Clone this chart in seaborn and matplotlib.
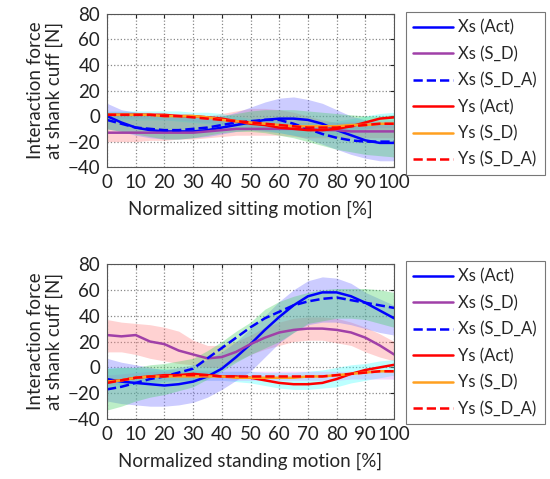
import matplotlib
matplotlib.use("Agg")
import matplotlib.pyplot as plt
import pandas as pd
import seaborn as sns

# normalized motion [%], sampled every 5 %
motion = list(range(0, 101, 5))

# ---- sitting motion (top panel) ----
sit_xs_act = [0, -5, -9, -11, -12, -12, -12, -11, -9, -7, -5, -3, -2, -2, -3, -6, -11, -15, -19, -21, -21]
sit_xs_sd = [-13, -13, -13, -13, -13, -13, -13, -12, -11, -10, -10, -10, -10, -10, -10, -11, -11, -12, -12, -12, -12]
sit_xs_sda = [-3, -6, -9, -10, -11, -11, -10, -9, -7, -5, -4, -3, -3, -6, -10, -14, -17, -19, -20, -20, -20]
sit_ys_act = [1, 1, 1, 1, 1, 0, 0, -1, -2, -4, -6, -7, -9, -10, -11, -11, -10, -8, -5, -2, -1]
sit_ys_sd = [1, 1, 1, 1, 0, 0, 0, -1, -3, -4, -5, -6, -7, -8, -8, -8, -8, -7, -7, -6, -6]
sit_ys_sda = [1, 1, 1, 1, 0, 0, -1, -2, -3, -4, -5, -6, -7, -8, -9, -9, -9, -8, -7, -6, -6]

# standard-deviation bands (upper / lower edge)
sit_xs_act_hi = [10, 5, 3, 2, 1, 0, 0, 0, 0, 3, 7, 11, 14, 15, 13, 10, 5, 0, -3, -5, -5]
sit_xs_act_lo = [-10, -12, -15, -17, -18, -18, -17, -16, -14, -12, -11, -12, -13, -15, -18, -22, -26, -30, -33, -35, -35]
sit_xs_sda_hi = [3, 3, 3, 2, 1, 0, 0, 0, 0, 2, 4, 5, 5, 5, 4, 3, 2, 1, 0, 0, 1]
sit_xs_sda_lo = [-10, -12, -14, -16, -18, -18, -17, -15, -13, -12, -12, -13, -15, -17, -20, -23, -26, -28, -30, -31, -32]
sit_xs_sd_hi = [0, 0, 0, 0, 0, 0, 0, 0, 2, 4, 6, 6, 5, 3, 0, -3, -5, -5, -5, -5, -5]
sit_xs_sd_lo = [-20, -20, -20, -19, -19, -18, -18, -17, -16, -15, -15, -15, -15, -16, -17, -17, -17, -17, -17, -17, -17]
sit_ys_act_hi = [4, 4, 4, 4, 4, 4, 3, 3, 2, 0, -2, -3, -4, -5, -5, -5, -4, -2, 0, 2, 3]
sit_ys_act_lo = [-3, -3, -3, -3, -3, -4, -5, -6, -7, -8, -10, -11, -13, -15, -16, -16, -15, -13, -10, -7, -5]
sit_ys_sd_hi = [3, 3, 3, 3, 2, 2, 1, 0, -1, -2, -3, -4, -4, -5, -5, -5, -5, -4, -4, -3, -3]
sit_ys_sd_lo = [-2, -2, -2, -2, -3, -3, -4, -5, -6, -7, -8, -9, -10, -11, -11, -11, -11, -10, -10, -9, -9]

# ---- standing motion (bottom panel) ----
std_xs_act = [-9, -11, -12, -13, -14, -13, -11, -7, -1, 8, 18, 29, 39, 48, 55, 58, 58, 55, 50, 44, 38]
std_xs_sd = [25, 24, 25, 20, 18, 13, 10, 7, 8, 12, 18, 23, 27, 29, 30, 30, 29, 27, 23, 17, 10]
std_xs_sda = [-17, -15, -12, -9, -7, -4, -1, 7, 15, 23, 31, 38, 43, 48, 51, 53, 54, 52, 50, 48, 46]
std_ys_act = [-11, -10, -8, -7, -6, -6, -5, -6, -7, -7, -8, -10, -12, -13, -13, -12, -9, -5, -2, 0, 2]
std_ys_sd = [-11, -10, -8, -7, -7, -7, -7, -7, -7, -8, -8, -8, -8, -8, -7, -7, -6, -5, -4, -3, -3]
std_ys_sda = [-12, -10, -8, -7, -7, -6, -6, -6, -7, -7, -7, -7, -7, -7, -7, -7, -6, -5, -4, -3, -3]

std_xs_act_hi = [7, 4, 2, 0, -2, 0, 2, 6, 12, 20, 30, 40, 51, 60, 67, 70, 69, 65, 58, 53, 48]
std_xs_act_lo = [-26, -28, -29, -30, -30, -29, -27, -23, -17, -10, -3, 8, 19, 27, 33, 35, 35, 33, 30, 27, 25]
std_xs_sda_hi = [-1, 0, 0, 2, 3, 5, 7, 13, 20, 28, 35, 45, 51, 55, 58, 60, 61, 61, 61, 60, 58]
std_xs_sda_lo = [-33, -30, -26, -23, -21, -18, -15, -9, -3, 4, 10, 15, 20, 27, 34, 36, 38, 38, 37, 34, 31]
std_xs_sd_hi = [37, 35, 34, 33, 31, 28, 21, 17, 17, 20, 25, 31, 35, 38, 39, 39, 38, 35, 31, 26, 20]
std_xs_sd_lo = [12, 12, 10, 7, 5, 3, 2, 0, 0, 5, 10, 14, 17, 20, 21, 21, 19, 17, 12, 8, 5]
std_ys_act_hi = [0, 0, 0, -1, -1, -2, -2, -2, -3, -3, -3, -4, -4, -4, -3, -2, 0, 2, 3, 5, 6]
std_ys_act_lo = [-16, -15, -13, -12, -11, -10, -10, -10, -10, -11, -12, -14, -16, -17, -17, -16, -15, -12, -10, -8, -6]
std_ys_sd_hi = [-6, -5, -4, -3, -3, -3, -3, -3, -3, -3, -3, -3, -3, -3, -3, -3, -3, -3, -2, -2, -2]
std_ys_sd_lo = [-14, -13, -12, -11, -10, -10, -10, -10, -10, -10, -10, -10, -10, -10, -10, -10, -10, -9, -9, -9, -9]

labels = ["Xs (Act)", "Xs (S_D)", "Xs (S_D_A)", "Ys (Act)", "Ys (S_D)", "Ys (S_D_A)"]
line_colors = ["#0000ff", "#a040a8", "#0000ff", "#ff0000", "#ffa020", "#ff0000"]
line_dashes = ["-", "-", "--", "-", "-", "--"]

sns.set_style("white")
plt.rcParams["font.family"] = ["Lato", "DejaVu Sans"]

fig = plt.figure(figsize=(5.5, 4.79), dpi=100)
ax_top = fig.add_axes([0.1945, 0.651, 0.522, 0.320])
ax_bot = fig.add_axes([0.1945, 0.125, 0.522, 0.324])


def draw_panel(ax, lines, bands, xlabel, legend_top):
    # bands: (hi, lo, color, alpha)
    for hi, lo, col, a in bands:
        ax.fill_between(motion, lo, hi, color=col, alpha=a, linewidth=0)
    for vals, lab, col, ls in zip(lines, labels, line_colors, line_dashes):
        df = pd.DataFrame({"x": motion, "y": vals})
        sns.lineplot(data=df, x="x", y="y", ax=ax, color=col, linestyle=ls,
                     linewidth=1.8, label=lab)
    ax.set_xlim(0, 100)
    ax.set_ylim(-40, 80)
    ax.set_xticks(range(0, 101, 10))
    ax.set_yticks(range(-40, 81, 20))
    ax.grid(True, linestyle=":", color="#888888", linewidth=0.9)
    ax.tick_params(direction="in", length=3, labelsize=13.5, pad=5,
                   top=True, right=True, colors="#222222")
    for s in ax.spines.values():
        s.set_color("#555555")
        s.set_linewidth(0.8)
    ax.set_xlabel(xlabel, fontsize=13.5, labelpad=7)
    ax.set_ylabel("Interaction force\nat shank cuff [N]", fontsize=13.5,
                  labelpad=3, linespacing=1.15)
    leg = ax.legend(loc="upper left", bbox_to_anchor=(0.738, legend_top),
                    bbox_transform=fig.transFigure, borderaxespad=0,
                    frameon=True, fancybox=False, fontsize=12,
                    handlelength=2.4, handletextpad=0.3, labelspacing=0.62,
                    borderpad=0.45)
    leg.get_frame().set_edgecolor("#555555")
    leg.get_frame().set_linewidth(0.8)


sit_bands = [
    (sit_xs_sd_hi, sit_xs_sd_lo, "#ff8080", 0.35),
    (sit_ys_act_hi, sit_ys_act_lo, "#40ffff", 0.35),
    (sit_ys_sd_hi, sit_ys_sd_lo, "#d080ff", 0.3),
    (sit_xs_act_hi, sit_xs_act_lo, "#8080ff", 0.4),
    (sit_xs_sda_hi, sit_xs_sda_lo, "#40d060", 0.35),
]
std_bands = [
    (std_xs_sd_hi, std_xs_sd_lo, "#ff8080", 0.35),
    (std_ys_act_hi, std_ys_act_lo, "#40ffff", 0.35),
    (std_ys_sd_hi, std_ys_sd_lo, "#d080ff", 0.3),
    (std_xs_act_hi, std_xs_act_lo, "#8080ff", 0.4),
    (std_xs_sda_hi, std_xs_sda_lo, "#40d060", 0.35),
]

draw_panel(ax_top,
           [sit_xs_act, sit_xs_sd, sit_xs_sda, sit_ys_act, sit_ys_sd, sit_ys_sda],
           sit_bands, "Normalized sitting motion [%]", 0.975)
draw_panel(ax_bot,
           [std_xs_act, std_xs_sd, std_xs_sda, std_ys_act, std_ys_sd, std_ys_sda],
           std_bands, "Normalized standing motion [%]", 0.455)

fig.savefig("out.png", dpi=100)
